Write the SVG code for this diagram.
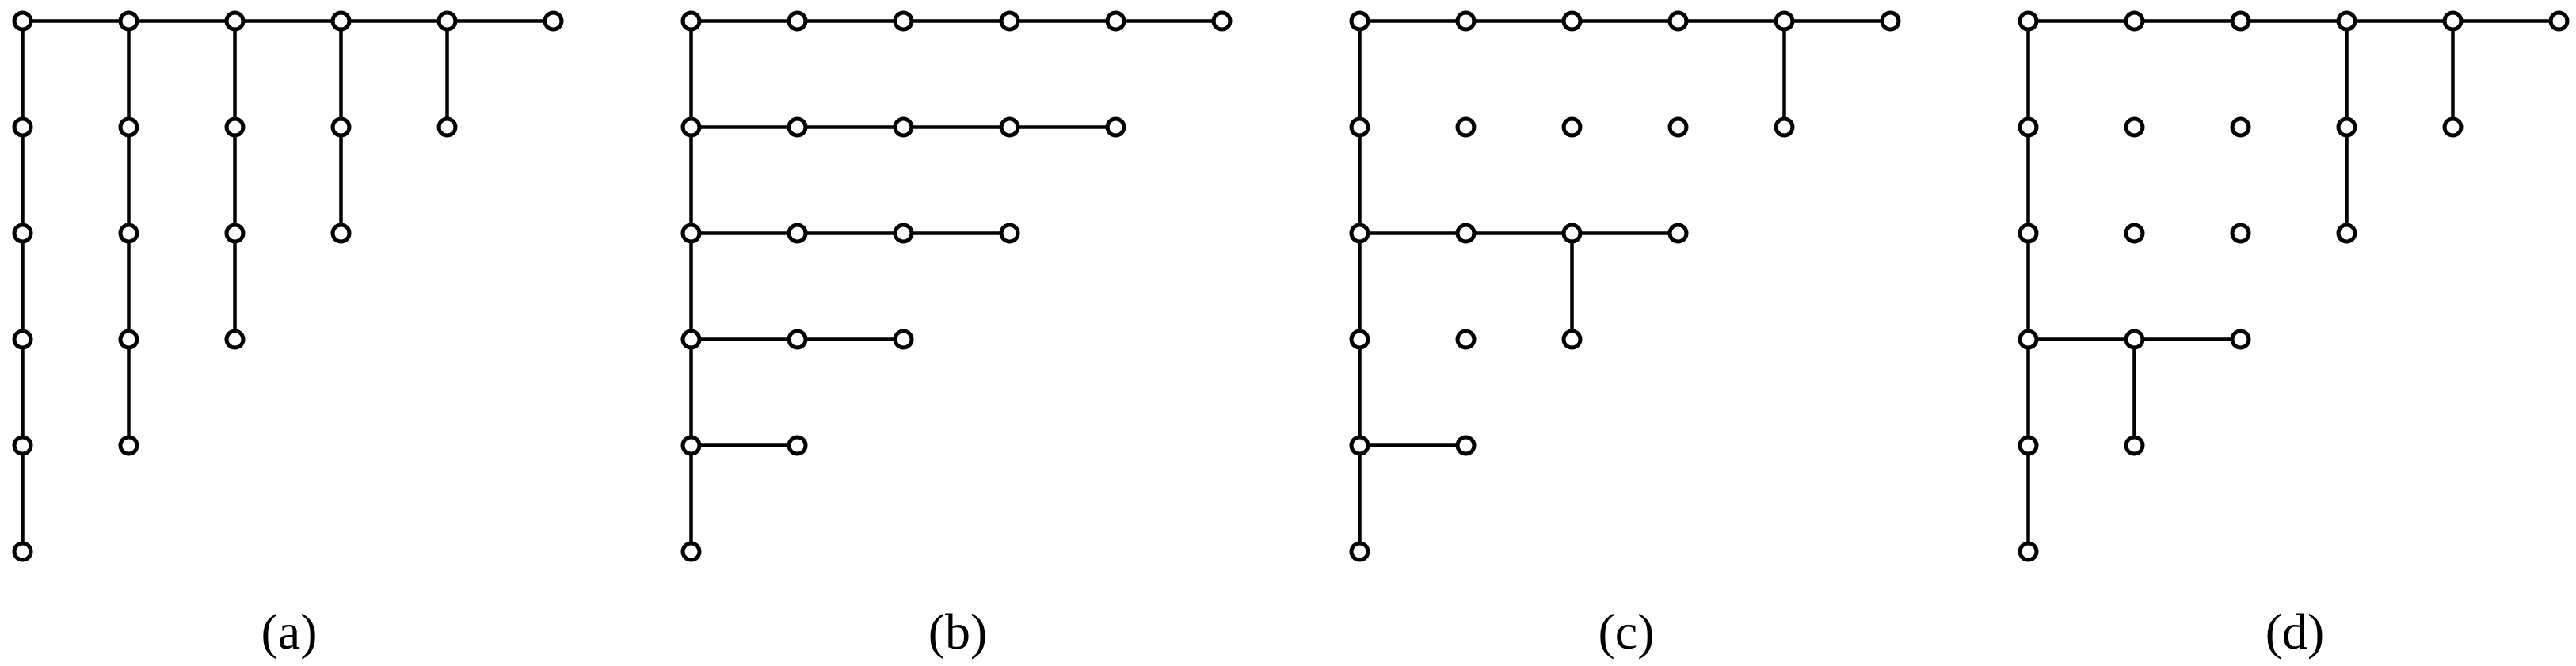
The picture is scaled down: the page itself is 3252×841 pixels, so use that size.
<svg xmlns="http://www.w3.org/2000/svg" width="3252" height="841" viewBox="0 0 3252 841">
<style>
.e{stroke:#000;stroke-width:4.5;fill:none}
.n{fill:#fff;stroke:#000;stroke-width:5}
.t{font-family:"Liberation Serif",serif;font-size:64px;text-anchor:middle;fill:#000}
</style>
<defs><circle id="c" r="10.5" class="n"/></defs>
<rect width="3252" height="841" fill="#fff"/>
<g id="connectors">
<!-- a -->
<path class="e" d="M28.5 26.5H698.5 M28.5 26.5V696.5 M162.5 26.5V562.5 M296.5 26.5V428.5 M430.5 26.5V294.5 M564.5 26.5V160.5"/>
<!-- b -->
<path class="e" d="M872.5 26.5V696.5 M872.5 26.5H1542.5 M872.5 160.5H1408.5 M872.5 294.5H1274.5 M872.5 428.5H1140.5 M872.5 562.5H1006.5"/>
<!-- c -->
<path class="e" d="M1716.5 26.5H2386.5 M1716.5 26.5V696.5 M2252.5 26.5V160.5 M1716.5 294.5H2118.5 M1984.5 294.5V428.5 M1716.5 562.5H1850.5"/>
<!-- d -->
<path class="e" d="M2560.5 26.5H3230.5 M2560.5 26.5V696.5 M2962.5 26.5V294.5 M3096.5 26.5V160.5 M2560.5 428.5H2828.5 M2694.5 428.5V562.5"/>
</g>
<g id="nodes-a" transform="translate(28.5 26.5)">
<use href="#c" x="0" y="0"/><use href="#c" x="134" y="0"/><use href="#c" x="268" y="0"/><use href="#c" x="402" y="0"/><use href="#c" x="536" y="0"/><use href="#c" x="670" y="0"/>
<use href="#c" x="0" y="134"/><use href="#c" x="134" y="134"/><use href="#c" x="268" y="134"/><use href="#c" x="402" y="134"/><use href="#c" x="536" y="134"/>
<use href="#c" x="0" y="268"/><use href="#c" x="134" y="268"/><use href="#c" x="268" y="268"/><use href="#c" x="402" y="268"/>
<use href="#c" x="0" y="402"/><use href="#c" x="134" y="402"/><use href="#c" x="268" y="402"/>
<use href="#c" x="0" y="536"/><use href="#c" x="134" y="536"/>
<use href="#c" x="0" y="670"/>
</g>
<g id="nodes-b" transform="translate(872.5 26.5)">
<use href="#c" x="0" y="0"/><use href="#c" x="134" y="0"/><use href="#c" x="268" y="0"/><use href="#c" x="402" y="0"/><use href="#c" x="536" y="0"/><use href="#c" x="670" y="0"/>
<use href="#c" x="0" y="134"/><use href="#c" x="134" y="134"/><use href="#c" x="268" y="134"/><use href="#c" x="402" y="134"/><use href="#c" x="536" y="134"/>
<use href="#c" x="0" y="268"/><use href="#c" x="134" y="268"/><use href="#c" x="268" y="268"/><use href="#c" x="402" y="268"/>
<use href="#c" x="0" y="402"/><use href="#c" x="134" y="402"/><use href="#c" x="268" y="402"/>
<use href="#c" x="0" y="536"/><use href="#c" x="134" y="536"/>
<use href="#c" x="0" y="670"/>
</g>
<g id="nodes-c" transform="translate(1716.5 26.5)">
<use href="#c" x="0" y="0"/><use href="#c" x="134" y="0"/><use href="#c" x="268" y="0"/><use href="#c" x="402" y="0"/><use href="#c" x="536" y="0"/><use href="#c" x="670" y="0"/>
<use href="#c" x="0" y="134"/><use href="#c" x="134" y="134"/><use href="#c" x="268" y="134"/><use href="#c" x="402" y="134"/><use href="#c" x="536" y="134"/>
<use href="#c" x="0" y="268"/><use href="#c" x="134" y="268"/><use href="#c" x="268" y="268"/><use href="#c" x="402" y="268"/>
<use href="#c" x="0" y="402"/><use href="#c" x="134" y="402"/><use href="#c" x="268" y="402"/>
<use href="#c" x="0" y="536"/><use href="#c" x="134" y="536"/>
<use href="#c" x="0" y="670"/>
</g>
<g id="nodes-d" transform="translate(2560.5 26.5)">
<use href="#c" x="0" y="0"/><use href="#c" x="134" y="0"/><use href="#c" x="268" y="0"/><use href="#c" x="402" y="0"/><use href="#c" x="536" y="0"/><use href="#c" x="670" y="0"/>
<use href="#c" x="0" y="134"/><use href="#c" x="134" y="134"/><use href="#c" x="268" y="134"/><use href="#c" x="402" y="134"/><use href="#c" x="536" y="134"/>
<use href="#c" x="0" y="268"/><use href="#c" x="134" y="268"/><use href="#c" x="268" y="268"/><use href="#c" x="402" y="268"/>
<use href="#c" x="0" y="402"/><use href="#c" x="134" y="402"/><use href="#c" x="268" y="402"/>
<use href="#c" x="0" y="536"/><use href="#c" x="134" y="536"/>
<use href="#c" x="0" y="670"/>
</g>
<g id="labels">
<text class="t" x="365" y="819">(a)</text>
<text class="t" x="1209" y="819">(b)</text>
<text class="t" x="2053" y="819">(c)</text>
<text class="t" x="2897" y="819">(d)</text>
</g>
</svg>
